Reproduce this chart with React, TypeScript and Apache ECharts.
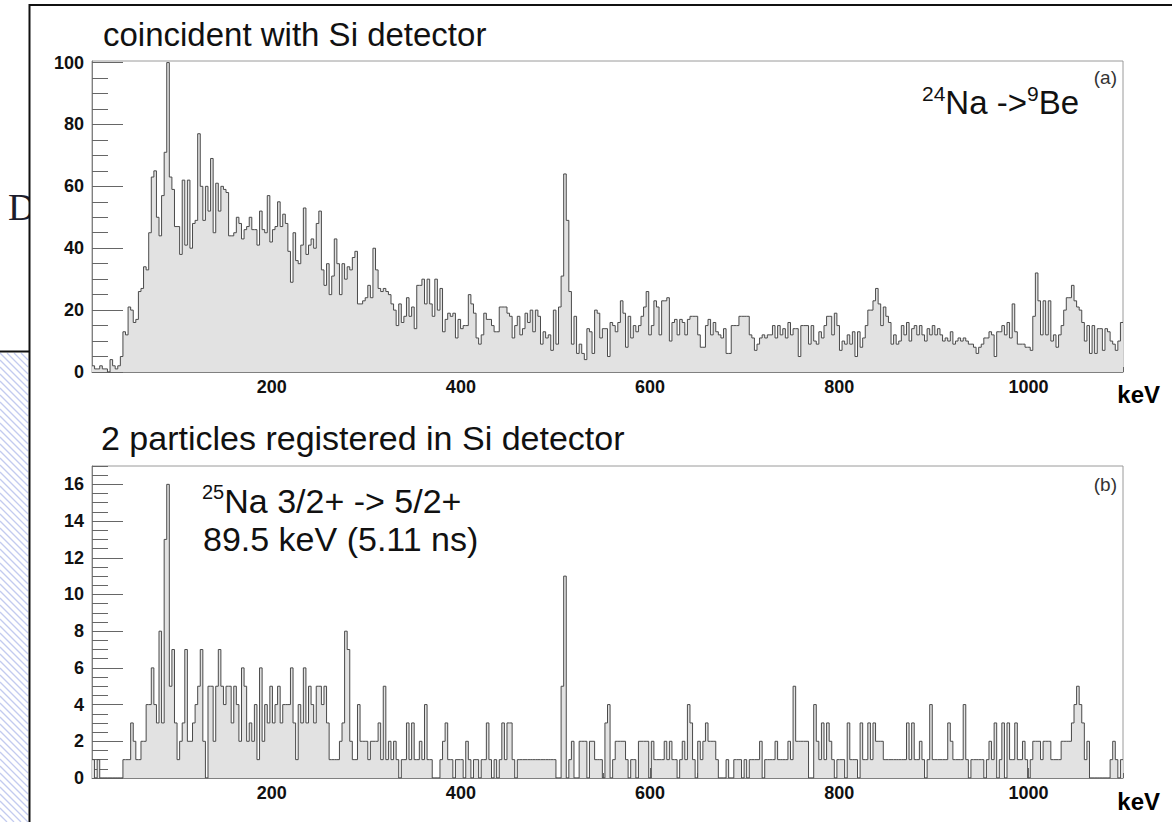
import React, { useEffect, useRef } from 'react';
import * as echarts from 'echarts';

// ---------- axis ranges and ticks ----------
const X_MIN = 10;
const X_MAX = 1100;
const N_BINS = 400;
const X_LABEL_TICKS = [200, 400, 600, 800, 1000];
const X_MINOR_TICKS = [50, 100, 150, 200, 250, 300, 350, 400, 450, 500, 550, 600, 650, 700, 750, 800, 850, 900, 950, 1000, 1050, 1100];
const Y_A_MAX = 100.5;
const Y_A_LABEL_TICKS = [0, 20, 40, 60, 80, 100];
const Y_A_MINOR_TICKS = [5, 10, 15, 20, 25, 30, 35, 40, 45, 50, 55, 60, 65, 70, 75, 80, 85, 90, 95, 100];
const Y_B_MAX = 17;
const Y_B_LABEL_TICKS = [0, 2, 4, 6, 8, 10, 12, 14, 16];
const Y_B_MINOR_TICKS = [0.5, 1, 1.5, 2, 2.5, 3, 3.5, 4, 4.5, 5, 5.5, 6, 6.5, 7, 7.5, 8, 8.5, 9, 9.5, 10, 10.5, 11, 11.5, 12, 12.5, 13, 13.5, 14, 14.5, 15, 15.5, 16, 16.5, 17];

// ---------- panel (a): counts per bin (bins 0-92, 93-200, 201-313, 314-399) ----------
const COUNTS_A_LOW = [
  2, 1, 1, 2, 1, 1, 0, 4, 2, 1, 2, 5,
  13, 12, 21, 20, 16, 17, 26, 27, 34, 33, 45, 63,
  65, 50, 44, 57, 71, 100, 63, 59, 47, 47, 38, 62,
  41, 62, 40, 48, 49, 77, 60, 49, 60, 52, 69, 45,
  61, 52, 60, 59, 58, 44, 44, 45, 50, 48, 43, 46,
  47, 50, 46, 46, 41, 52, 46, 45, 57, 42, 46, 47,
  55, 47, 51, 48, 39, 29, 45, 36, 35, 41, 53, 38,
  41, 43, 40, 48, 52, 33, 28, 35, 25,
];
const COUNTS_A_MID = [
  31, 43, 35, 25, 35, 30, 34, 33, 37, 39,
  22, 22, 23, 24, 28, 24, 40, 33, 27, 26,
  27, 26, 25, 22, 20, 15, 22, 16, 18, 24,
  18, 21, 14, 28, 28, 30, 22, 30, 22, 18,
  30, 20, 27, 13, 17, 19, 18, 19, 11, 17,
  14, 15, 15, 25, 22, 19, 11, 9, 12, 19,
  17, 17, 15, 13, 13, 21, 21, 21, 19, 18,
  11, 15, 18, 12, 14, 19, 16, 20, 13, 20,
  18, 9, 13, 11, 12, 7, 20, 9, 21, 31,
  64, 49, 26, 9, 18, 6, 9, 6, 4, 14,
  13, 6, 20, 19, 11, 14, 14, 5,
];
const COUNTS_A_HIGH = [
  16, 15, 13, 16, 23, 19, 8, 18, 11, 15,
  13, 15, 18, 21, 26, 12, 15, 23, 21, 12,
  23, 23, 24, 10, 16, 17, 12, 17, 16, 12,
  17, 18, 18, 18, 12, 8, 8, 15, 17, 12,
  16, 13, 12, 11, 14, 6, 6, 15, 15, 15,
  18, 18, 18, 18, 12, 11, 7, 9, 11, 12,
  11, 12, 12, 15, 11, 15, 12, 14, 11, 16,
  12, 14, 14, 5, 15, 15, 15, 9, 15, 10,
  9, 13, 11, 15, 18, 18, 12, 19, 15, 7,
  10, 9, 12, 9, 13, 5, 13, 8, 11, 15,
  20, 20, 23, 27, 22, 15, 21, 18, 16, 9,
  12, 9, 10,
];
const COUNTS_A_TOP = [
  15, 12, 16, 10, 14, 15, 12, 15, 12, 10,
  14, 12, 15, 12, 14, 12, 10, 11, 10, 13,
  9, 10, 11, 10, 11, 10, 9, 9, 8, 6,
  8, 9, 11, 11, 13, 12, 5, 13, 13, 15,
  12, 16, 11, 22, 13, 9, 9, 9, 8, 8,
  7, 18, 32, 23, 12, 23, 12, 23, 10, 12,
  8, 12, 15, 20, 24, 24, 28, 23, 21, 20,
  16, 10, 15, 6, 15, 6, 14, 14, 7, 14,
  13, 10, 9, 7, 10, 16,
];

// ---------- panel (b): counts per bin (bins 0-99, 100-199, 200-399) ----------
const COUNTS_B_LOW = [
  1, 0, 1, 0, 0, 0, 0, 0, 0, 0, 0, 0,
  1, 1, 1, 3, 2, 1, 1, 2, 2, 4, 4, 6, 4, 3, 8, 3, 13,
  16,
  5, 7, 3, 1, 2, 3, 7, 2, 2, 3,
  4, 5, 7, 2, 0, 5, 5, 2, 5, 7,
  5, 4, 5, 5, 3, 5, 4, 2, 6, 5,
  2, 3, 2, 4, 1, 6, 2, 4, 3, 5,
  3, 4, 5, 3, 4, 4, 4, 6, 3, 1,
  4, 3, 6, 3, 5, 4, 3, 5, 5, 4,
  5, 3, 1, 1, 1, 1, 2, 3, 8, 7,
];
const COUNTS_B_MID = [
  2, 1, 1, 4, 2, 2, 2, 1, 2, 2,
  2, 3, 1, 5, 1, 2, 1, 2, 1, 0,
  1, 1, 3, 1, 3, 1, 1, 2, 1, 4,
  1, 1, 0, 0, 0, 1, 2, 3, 1, 1,
  0, 1, 1, 1, 0, 2, 1, 0, 1, 1,
  0, 1, 1, 3, 1, 0, 1, 0, 1, 3,
  1, 3, 3, 1, 0, 1, 1, 1, 1, 1,
  1, 1, 1, 1, 1, 1, 1, 1, 1, 1,
  0, 0, 5, 11, 0, 1, 2, 0, 0, 2,
  2, 2, 0, 2, 2, 1, 1, 1, 0, 3,
];
const COUNTS_B_HIGH = [
  4, 0, 1, 2, 2, 2, 2, 1, 0, 1,
  1, 0, 2, 2, 2, 2, 0, 2, 1, 1,
  1, 1, 2, 1, 2, 1, 1, 0, 1, 2,
  1, 4, 3, 1, 0, 2, 1, 2, 3, 2,
  2, 2, 1, 0, 0, 0, 1, 0, 0, 1,
  1, 1, 0, 1, 0, 1, 1, 1, 1, 2,
  0, 1, 1, 1, 1, 2, 1, 1, 1, 1,
  2, 1, 5, 2, 2, 2, 2, 2, 0, 0,
  4, 2, 1, 3, 1, 3, 2, 1, 0, 1,
  1, 1, 0, 3, 1, 1, 1, 0, 3, 1,
  1, 3, 1, 3, 2, 2, 2, 1, 1, 1,
  1, 1, 1, 1, 1, 1, 3, 1, 3, 1,
  1, 2, 1, 0, 1, 4, 1, 1, 1, 1,
  1, 1, 3, 2, 1, 1, 1, 1, 4, 1,
  0, 1, 1, 1, 1, 1, 0, 1, 2, 1,
  3, 0, 1, 3, 0, 3, 1, 1, 3, 1,
  1, 2, 1, 0, 1, 2, 2, 2, 1, 2,
  2, 2, 1, 1, 1, 1, 2, 2, 2, 2,
  3, 4, 5, 4, 3, 1, 2, 0, 0, 0,
  0, 0, 0, 0, 0, 1, 2, 1, 0, 1,
];

// ---------- texts ----------
const TITLE_A = 'coincident with Si detector';
const TITLE_B = '2 particles registered in Si detector';
const UNIT = 'keV';

const FONT = '"Liberation Sans", Arial, Helvetica, sans-serif';

function histogramSteps(values: number[]): number[][] {
  const w = (X_MAX - X_MIN) / values.length;
  const pts = values.map((v, i) => [X_MIN + i * w, v]);
  pts.push([X_MAX, values[values.length - 1]]);
  return pts;
}

const labelStyle = {
  fontFamily: FONT, fontWeight: 'bold' as const, fontSize: 18, color: '#111',
  formatter: (v: number) => String(v),
};

function xAxes(grid: number) {
  return [
    {
      type: 'value', gridIndex: grid, position: 'bottom', min: X_MIN, max: X_MAX,
      axisLine: { show: true, onZero: false, lineStyle: { color: '#808080', width: 1 } },
      axisTick: { show: true, inside: true, length: 10, customValues: X_LABEL_TICKS, lineStyle: { color: '#666', width: 1 } },
      axisLabel: { show: true, customValues: X_LABEL_TICKS, margin: 6, ...labelStyle },
      splitLine: { show: false },
    },
    {
      type: 'value', gridIndex: grid, position: 'bottom', min: X_MIN, max: X_MAX,
      axisLine: { show: false, onZero: false },
      axisTick: { show: true, inside: true, length: 5, customValues: X_MINOR_TICKS, lineStyle: { color: '#666', width: 1 } },
      axisLabel: { show: false },
      splitLine: { show: false },
    },
  ];
}

function yAxes(grid: number, max: number, major: number[], minor: number[]) {
  return [
    {
      type: 'value', gridIndex: grid, position: 'left', min: 0, max,
      axisLine: { show: true, onZero: false, lineStyle: { color: '#808080', width: 1 } },
      axisTick: { show: true, inside: true, length: 31, customValues: major, lineStyle: { color: '#666', width: 1 } },
      axisLabel: { show: true, customValues: major, margin: 8, ...labelStyle },
      splitLine: { show: false },
    },
    {
      type: 'value', gridIndex: grid, position: 'left', min: 0, max,
      axisLine: { show: false, onZero: false },
      axisTick: { show: true, inside: true, length: 16, customValues: minor, lineStyle: { color: '#666', width: 1 } },
      axisLabel: { show: false },
      splitLine: { show: false },
    },
  ];
}

function topText(text: string, x: number, baseline: number, size: number, opts: any = {}) {
  return {
    type: 'text', x, y: baseline - 0.8465 * size, silent: true, z: 50,
    style: {
      text, fill: opts.fill || '#111', fontFamily: FONT, fontSize: size, fontWeight: opts.weight || 'normal',
      lineHeight: size, align: opts.align || 'left', textAlign: opts.align || 'left', verticalAlign: 'top', textVerticalAlign: 'top',
    },
  };
}

function hatchLines() {
  const out: any[] = [];
  const top = 353, bottom = 822, right = 28;
  for (let y0 = top - right; y0 < bottom; y0 += 7) {
    let x1 = 0, y1 = y0, x2 = right, y2 = y0 + right;
    if (y1 < top) { x1 = top - y0; y1 = top; }
    if (y2 > bottom) { x2 = bottom - y0; y2 = bottom; }
    if (x2 > x1) out.push({ type: 'line', silent: true, z: -5, shape: { x1, y1, x2, y2 }, style: { stroke: '#c3cbef', lineWidth: 1.3 } });
  }
  return out;
}

export default function App() {
  const ref = useRef<HTMLDivElement>(null);

  useEffect(() => {
    document.body.style.margin = '0';
    if (!ref.current) return;
    const chart = echarts.init(ref.current, null, { renderer: 'svg' });

    const countsA = [...COUNTS_A_LOW, ...COUNTS_A_MID, ...COUNTS_A_HIGH, ...COUNTS_A_TOP].slice(0, N_BINS);
    const countsB = [...COUNTS_B_LOW, ...COUNTS_B_MID, ...COUNTS_B_HIGH].slice(0, N_BINS);

    const histStyle = {
      type: 'line', step: 'end', symbol: 'none', showSymbol: false, silent: true, z: 2,
      lineStyle: { color: '#4a4a4a', width: 1 },
      areaStyle: { color: '#e2e2e2', opacity: 1 },
    };

    chart.setOption({
      animation: false,
      backgroundColor: 'transparent',
      grid: [
        { left: 92, top: 61, width: 1031, height: 311, show: true, borderColor: '#9a9a9a', borderWidth: 1, backgroundColor: '#fff', containLabel: false, outerBoundsMode: 'none' },
        { left: 92, top: 466, width: 1031, height: 312, show: true, borderColor: '#9a9a9a', borderWidth: 1, backgroundColor: '#fff', containLabel: false, outerBoundsMode: 'none' },
      ],
      xAxis: [...xAxes(0), ...xAxes(1)],
      yAxis: [
        ...yAxes(0, Y_A_MAX, Y_A_LABEL_TICKS, Y_A_MINOR_TICKS),
        ...yAxes(1, Y_B_MAX, Y_B_LABEL_TICKS, Y_B_MINOR_TICKS),
      ],
      series: [
        { ...histStyle, name: 'a', xAxisIndex: 0, yAxisIndex: 0, data: histogramSteps(countsA) },
        { ...histStyle, name: 'b', xAxisIndex: 2, yAxisIndex: 2, data: histogramSteps(countsB) },
      ],
      graphic: [
        // slide residue on the left
        { type: 'text', x: 8, y: 188, silent: true, z: -12, style: { text: 'D', fill: '#1c1c2c', fontFamily: '"Liberation Serif", "Times New Roman", serif', fontSize: 38, lineHeight: 38, verticalAlign: 'top', textVerticalAlign: 'top' } },
        { type: 'rect', silent: true, z: -10, shape: { x: 30, y: 6, width: 1142, height: 816 }, style: { fill: '#ffffff' } },
        ...hatchLines(),
        { type: 'line', silent: true, z: 60, shape: { x1: 0, y1: 351.5, x2: 30, y2: 351.5 }, style: { stroke: '#111', lineWidth: 2 } },
        { type: 'line', silent: true, z: 60, shape: { x1: 29.5, y1: 4, x2: 29.5, y2: 822 }, style: { stroke: '#111', lineWidth: 2 } },
        { type: 'line', silent: true, z: 60, shape: { x1: 29, y1: 5, x2: 1172, y2: 5 }, style: { stroke: '#111', lineWidth: 2 } },
        // titles
        topText(TITLE_A, 103, 46, 33),
        topText(TITLE_B, 101, 450, 34),
        // panel tags
        topText('(a)', 1117, 84, 19, { align: 'right', fill: '#333' }),
        topText('(b)', 1117, 491, 19, { align: 'right', fill: '#333' }),
        // units
        topText(UNIT, 1160, 403, 24, { align: 'right', weight: 'bold', fill: '#000' }),
        topText(UNIT, 1160, 810, 24, { align: 'right', weight: 'bold', fill: '#000' }),
        // annotations
        {
          type: 'text', x: 922, y: 83, silent: true, z: 50,
          style: {
            text: '{s|24}{n|Na ->}{s|9}{n|Be}', fontFamily: FONT, fill: '#111', verticalAlign: 'top', textVerticalAlign: 'top',
            rich: {
              s: { fontFamily: FONT, fontSize: 21, lineHeight: 23, verticalAlign: 'top', fill: '#111' },
              n: { fontFamily: FONT, fontSize: 33, lineHeight: 38, fill: '#111' },
            },
          },
        },
        {
          type: 'text', x: 202, y: 482, silent: true, z: 50,
          style: {
            text: '{s|25}{n|Na 3/2+ -> 5/2+}', fontFamily: FONT, fill: '#111', verticalAlign: 'top', textVerticalAlign: 'top',
            rich: {
              s: { fontFamily: FONT, fontSize: 20, lineHeight: 25, verticalAlign: 'top', fill: '#111' },
              n: { fontFamily: FONT, fontSize: 34, lineHeight: 38, fill: '#111' },
            },
          },
        },
        topText('89.5 keV (5.11 ns)', 203, 551, 34),
      ],
    });

    return () => chart.dispose();
  }, []);

  return <div ref={ref} style={{ width: 1172, height: 822 }} />;
}
